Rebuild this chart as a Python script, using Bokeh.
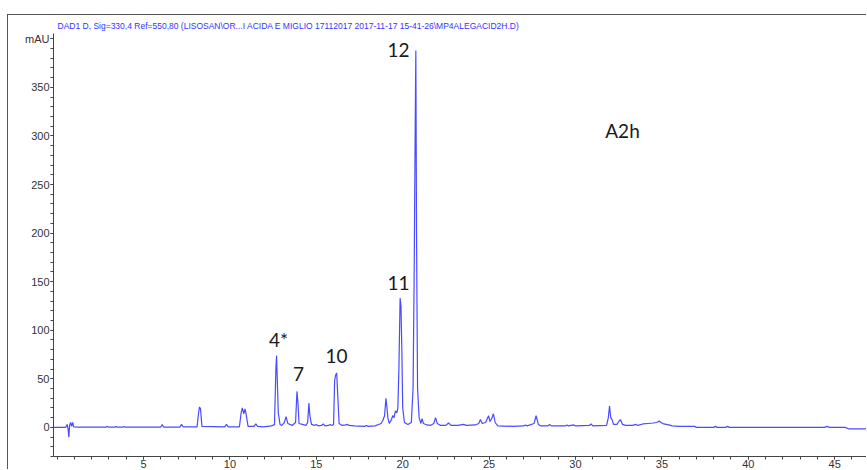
from bokeh.plotting import figure
from bokeh.embed import file_html
from bokeh.resources import INLINE
from bokeh.models import Label, FixedTicker

# ---- data ----
time_min = [
    -0.2, 0.5, 0.58, 0.63, 0.68, 0.72, 0.78, 0.84, 0.9, 0.96, 1.3,
    2.85, 2.9, 2.95, 3.35, 3.4, 3.45, 3.8, 3.85, 3.9,
    6.0, 6.08, 6.16, 7.1, 7.2, 7.3,
    8.1, 8.18, 8.24, 8.3, 8.38,
    9.7, 9.8, 9.9,
    10.55, 10.65, 10.72, 10.8, 10.88, 10.95, 11.05,
    11.4, 11.5, 11.6, 11.95, 12.4, 12.55,
    12.58, 12.66, 12.7, 12.74, 12.8, 12.9, 13.0, 13.15, 13.25, 13.35,
    13.6, 13.8, 13.88, 13.94, 14.0, 14.4, 14.5, 14.57, 14.63, 14.72,
    14.9, 15.0, 15.1, 15.3, 15.4, 15.5, 15.7, 15.8, 15.9, 16.0,
    16.06, 16.12, 16.18, 16.25, 16.32, 16.5, 16.7, 16.8, 16.9, 17.2,
    17.8, 17.9, 18.0, 18.4, 18.6, 18.75, 18.85, 18.95, 19.03, 19.08,
    19.14, 19.22, 19.35, 19.42, 19.5, 19.58, 19.66, 19.72, 19.78, 19.85,
    19.9, 19.95, 20.0, 20.1, 20.3, 20.5, 20.6, 20.66, 20.72, 20.76,
    20.8, 20.86, 20.95, 21.05, 21.12, 21.2, 21.4, 21.6, 21.8, 21.9,
    22.0, 22.2, 22.5, 22.65, 22.8, 23.2, 23.5, 23.7, 24.2, 24.4,
    24.5, 24.6, 24.8, 24.97, 25.05, 25.15, 25.25, 25.35, 25.5, 26.4,
    27.0, 27.1, 27.2, 27.6, 27.72, 27.85, 28.0, 28.4, 28.5, 28.6,
    29.4, 29.5, 29.6, 29.9, 30.0, 30.8, 30.9, 31.0, 31.8, 31.9,
    31.97, 32.04, 32.12, 32.2, 32.4, 32.5, 32.6, 32.72, 32.9, 33.3,
    33.5, 33.6, 33.9, 34.2, 34.5, 34.7, 34.85, 34.95, 35.1, 35.4,
    35.6, 36.0, 36.9, 37.0, 37.2, 38.0, 38.1, 38.2, 38.7, 38.8,
    38.9, 44.4, 44.55, 44.7, 45.6, 45.8, 47.0,
]
absorbance_mau = [
    0, 0, 3, -1, -10, 2, 5, 1, 5, 0.5, 0.3,
    0.3, 1.2, 0.3, 0.3, 1.0, 0.3, 0.3, 0.8, 0.3,
    0.3, 3, 0.3, 0.3, 3, 0.4,
    0.5, 14, 21, 19, 1,
    0.5, 3, 0.6,
    0.6, 15, 20, 14, 19, 12, 1,
    1, 3.5, 1, 0.5, 1.5, 2.5,
    3, 60, 74, 50, 15, 3, 2, 5, 11, 4,
    2, 5, 37, 25, 4, 2, 5, 25, 12, 3,
    2, 3, 1.5, 2, 3.5, 1.5, 2, 3, 2, 3,
    48, 54, 56, 30, 4, 2, 2.5, 3, 2, 1.5,
    1, 2, 1, 1.5, 3, 4, 7, 12, 30, 22,
    10, 4, 8, 12, 10, 17, 15, 20, 60, 133,
    125, 80, 20, 5, 3, 5, 40, 150, 300, 388,
    200, 40, 10, 4, 9, 4, 2.5, 2, 4, 10,
    4, 2, 2, 4.5, 2, 2, 3, 2, 2.5, 4,
    8, 4, 5, 12, 6, 9, 14, 5, 1.5, 1,
    1.5, 2.5, 1.5, 4, 12, 3, 1.5, 1.5, 3, 1.5,
    1.5, 2.5, 1.5, 2.5, 1.5, 2, 3.5, 1.5, 2, 10,
    22, 10, 8, 3, 3, 6, 8, 3, 2, 2,
    3, 2, 3.5, 4, 4.5, 5, 6.5, 5, 3.5, 2.5,
    1.5, 1, 1, 0, 0, 0, 1, 0, 0, 1,
    0, 0, 1, 0, 0, -1.5, -1.5,
]
peak_labels = ["12", "11", "4*", "7", "10"]
peak_label_time = [19.76, 19.76, 12.81, 13.97, 16.17]
peak_label_mau = [388.0, 149.0, 90.0, 54.5, 73.0]
sample_label = "A2h"
x_ticks = [5, 10, 15, 20, 25, 30, 35, 40, 45]
y_ticks = [0, 50, 100, 150, 200, 250, 300, 350, 400]
y_tick_text = {400: "mAU"}
title_text = r"DAD1 D, Sig=330,4 Ref=550,80 (LISOSAN\OR...I ACIDA E MIGLIO 17112017 2017-11-17 15-41-26\MP4ALEGACID2H.D)"

AX = "#444444"
TRACE = "#4a4aff"

p = figure(width=859, height=455, x_range=(-0.21, 46.9), y_range=(-30, 405.5),
           output_backend="svg", toolbar_location=None,
           min_border_left=45, min_border_right=0, min_border_top=4, min_border_bottom=10)
p.styles = {"margin-left": "7px", "margin-top": "14px",
            "border-left": "1px solid #555555", "border-top": "1px solid #555555"}
p.outline_line_color = None
p.grid.visible = False
p.background_fill_color = "white"
p.border_fill_color = "white"

p.title.text = title_text
p.title.align = "left"
p.title.offset = 4
p.title.text_font = "Liberation Sans"
p.title.text_font_style = "normal"
p.title.text_font_size = "8.5px"
p.title.text_color = "#3333ff"
p.title.standoff = 6

p.line(time_min, absorbance_mau, line_color=TRACE, line_width=1.2)

for ax in (p.xaxis[0], p.yaxis[0]):
    ax.axis_line_color = AX
    ax.major_tick_line_color = AX
    ax.minor_tick_line_color = AX
    ax.major_tick_in = 0
    ax.minor_tick_in = 0
    ax.major_tick_out = 3
    ax.minor_tick_out = 3
    ax.major_label_text_font = "Liberation Sans"
    ax.major_label_text_font_size = "11px"
    ax.major_label_text_color = "#333333"
p.yaxis[0].major_label_standoff = 1
p.xaxis[0].major_label_standoff = 0

p.xaxis[0].ticker = FixedTicker(ticks=x_ticks, minor_ticks=list(range(0, 47)))
p.yaxis[0].ticker = FixedTicker(ticks=y_ticks, minor_ticks=list(range(-30, 401, 10)))
p.yaxis[0].major_label_overrides = y_tick_text

for t, a, s in zip(peak_label_time, peak_label_mau, peak_labels):
    p.add_layout(Label(x=t, y=a, text=s, text_align="center", text_baseline="middle",
                       text_font="Lato", text_font_size="19px", text_color="#1a1a1a"))
p.add_layout(Label(x=32.72, y=306, text=sample_label, text_align="center", text_baseline="middle",
                   text_font="Lato", text_font_size="19px", text_color="#1a1a1a"))

open("out.html", "w").write(file_html(p, INLINE))
